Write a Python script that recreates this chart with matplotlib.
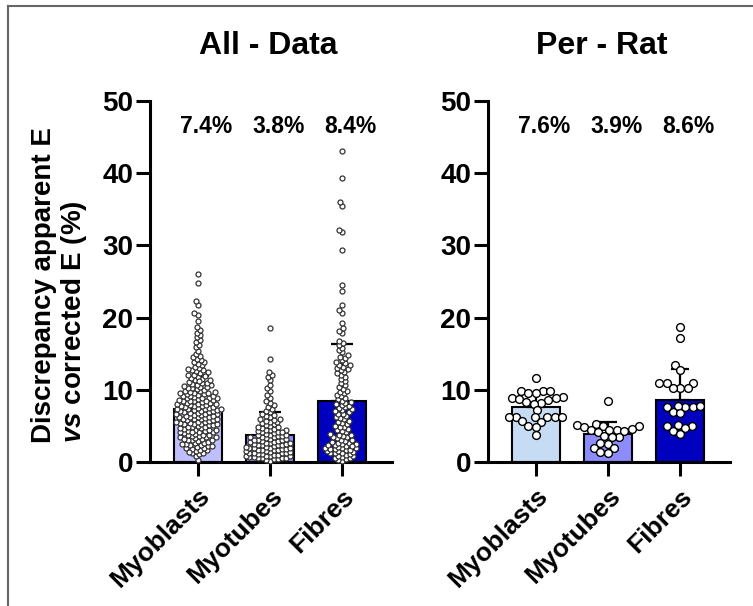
import numpy as np
import matplotlib
matplotlib.use('Agg')
import matplotlib.pyplot as plt
from matplotlib.lines import Line2D

plt.rcParams['font.family'] = ['Liberation Sans', 'DejaVu Sans']
plt.rcParams['font.weight'] = 'bold'
plt.rcParams['mathtext.fontset'] = 'custom'
plt.rcParams['mathtext.it'] = 'Liberation Sans:italic:bold'
plt.rcParams['mathtext.rm'] = 'Liberation Sans:bold'

# groups
groups = ['Myoblasts', 'Myotubes', 'Fibres']

# All - Data panel
mean_all = [7.4, 3.8, 8.4]
sd_all = [4.5, 3.1, 7.9]
myoblasts_all = [
    0.3, 0.8,
    1.1, 1.2, 1.3, 1.5, 1.6, 1.7, 1.8, 1.9, 1.4,
    2.0, 2.1, 2.2, 2.3, 2.4, 2.5, 2.5, 2.6, 2.7, 2.8, 2.9, 2.2,
    3.0, 3.1, 3.1, 3.2, 3.3, 3.4, 3.4, 3.5, 3.6, 3.6, 3.7, 3.8, 3.8, 3.9, 3.2,
    4.0, 4.1, 4.1, 4.2, 4.3, 4.3, 4.4, 4.5, 4.5, 4.6, 4.7, 4.7, 4.8, 4.9, 4.9, 4.2,
    5.0, 5.1, 5.1, 5.2, 5.3, 5.3, 5.4, 5.4, 5.5, 5.6, 5.6, 5.7, 5.8, 5.8, 5.9, 5.9, 5.2,
    6.0, 6.0, 6.1, 6.2, 6.2, 6.3, 6.3, 6.4, 6.5, 6.5, 6.6, 6.6, 6.7, 6.8, 6.8, 6.9, 6.9, 6.4,
    7.0, 7.0, 7.1, 7.2, 7.2, 7.3, 7.3, 7.4, 7.5, 7.5, 7.6, 7.6, 7.7, 7.8, 7.8, 7.9, 7.9, 7.4,
    8.0, 8.0, 8.1, 8.2, 8.2, 8.3, 8.4, 8.4, 8.5, 8.6, 8.6, 8.7, 8.8, 8.8, 8.9, 8.9, 8.5,
    9.0, 9.1, 9.1, 9.2, 9.3, 9.4, 9.4, 9.5, 9.6, 9.7, 9.7, 9.8, 9.9, 9.5,
    10.0, 10.1, 10.2, 10.3, 10.4, 10.5, 10.6, 10.7, 10.8, 10.9, 10.4,
    11.0, 11.1, 11.3, 11.4, 11.5, 11.6, 11.8, 11.9, 11.2,
    12.0, 12.1, 12.3, 12.4, 12.6, 12.7, 12.8, 12.9,
    13.0, 13.2, 13.4, 13.6, 13.8, 13.9,
    14.1, 14.3, 14.5, 14.7, 14.9,
    15.4, 15.9, 16.2, 16.6, 16.9, 17.3, 17.6, 17.9, 18.3, 18.7,
    19.5, 20.4, 20.7, 21.8, 22.3, 24.8, 26.0,
]
myotubes_all = [
    0.2, 0.3, 0.4, 0.4, 0.5, 0.5, 0.6, 0.6, 0.7, 0.7, 0.8, 0.8, 0.9, 0.9,
    1.0, 1.0, 1.1, 1.1, 1.2, 1.2, 1.3, 1.3, 1.4, 1.4, 1.5, 1.5, 1.6, 1.6, 1.7, 1.7, 1.8, 1.8, 1.9, 1.9,
    2.0, 2.0, 2.1, 2.1, 2.2, 2.3, 2.3, 2.4, 2.4, 2.5, 2.5, 2.6, 2.6, 2.7, 2.8, 2.8, 2.9, 2.9,
    3.0, 3.0, 3.1, 3.2, 3.2, 3.3, 3.4, 3.4, 3.5, 3.6, 3.6, 3.7, 3.8, 3.8, 3.9,
    4.0, 4.1, 4.2, 4.3, 4.4, 4.5, 4.5, 4.6, 4.7, 4.8, 4.9, 4.2,
    5.0, 5.1, 5.2, 5.4, 5.5, 5.6, 5.7, 5.8, 5.9,
    6.0, 6.2, 6.4, 6.5, 6.7, 6.9,
    7.1, 7.4, 7.6, 7.9, 8.2, 8.5, 8.9, 9.3, 9.8,
    10.2, 10.7, 11.3, 11.8, 12.0, 12.4, 14.2, 18.6,
]
fibres_all = [
    0.1, 0.3, 0.4, 0.5, 0.6, 0.7, 0.8, 0.9,
    1.0, 1.1, 1.2, 1.2, 1.3, 1.4, 1.5, 1.5, 1.6, 1.7, 1.8, 1.8, 1.9, 1.9,
    2.0, 2.1, 2.2, 2.3, 2.4, 2.5, 2.5, 2.6, 2.7, 2.8, 2.9, 2.2,
    3.0, 3.1, 3.3, 3.4, 3.5, 3.6, 3.7, 3.8, 3.9,
    4.1, 4.3, 4.4, 4.6, 4.8, 4.9,
    5.0, 5.2, 5.4, 5.5, 5.7, 5.9,
    6.1, 6.2, 6.4, 6.6, 6.7, 6.9,
    7.0, 7.2, 7.3, 7.5, 7.6, 7.8, 7.9,
    8.0, 8.2, 8.3, 8.5, 8.7, 8.9,
    9.1, 9.3, 9.5, 9.7, 9.9,
    10.1, 10.4, 10.6, 10.9, 11.2, 11.5, 11.8,
    12.1, 12.3, 12.5, 12.7, 12.9,
    13.0, 13.2, 13.4, 13.5, 13.7, 13.9,
    14.1, 14.4, 14.6, 14.8, 15.2, 15.5, 15.8, 16.2, 16.5, 16.8,
    17.8, 18.2, 18.5, 19.2, 20.6, 21.0, 21.7, 23.7, 24.5,
    29.4, 31.8, 32.2, 35.5, 36.0, 39.3, 43.1,
]

# Per - Rat panel
mean_rat = [7.6, 3.9, 8.6]
sd_rat = [1.9, 1.6, 4.3]
myoblasts_rat = [11.7, 9.9, 9.9, 9.9, 9.6, 9.5, 9.0, 8.9, 8.8, 8.7, 8.6, 8.3, 8.2,
                 8.1, 7.2, 6.3, 6.3, 6.3, 6.2, 6.3, 6.3, 5.7, 5.6, 5.0, 4.9, 3.7]
myotubes_rat = [8.4, 5.2, 5.1, 5.0, 5.0, 4.9, 4.6, 4.5, 4.4, 4.4, 4.3, 4.2, 3.6,
                3.5, 3.4, 2.7, 2.5, 2.0, 1.9, 1.4, 1.3]
fibres_rat = [18.7, 17.2, 13.5, 12.7, 11.0, 11.0, 11.0, 10.3, 10.3, 10.3, 7.6, 7.6,
              7.7, 7.6, 7.8, 6.9, 6.8, 5.0, 5.0, 5.1, 4.7, 4.3, 3.9]

colors_all = ['#BFBFFF', '#8C8CFF', '#0000BF']
colors_rat = ['#C6DCF5', '#8C8CFF', '#0000BF']

W, H = 753, 606
fig = plt.figure(figsize=(W / 100, H / 100), dpi=100)
axL = fig.add_axes([150 / W, 144 / H, 242 / W, 361 / H])
axR = fig.add_axes([488 / W, 144 / H, 242 / W, 361 / H])

XLIM = (-0.66, 2.69)
YLIM = (0, 50)
xpx = 242 / (XLIM[1] - XLIM[0])
ypx = 361 / (YLIM[1] - YLIM[0])


def swarm(vals, d):
    # simple beeswarm in pixel space, returns x offsets in data units
    ys = np.asarray(vals, dtype=float) * ypx
    xs = np.zeros(len(ys))
    placed = []
    for i in np.argsort(ys, kind='stable'):
        y = ys[i]
        iv = []
        for xj, yj in placed:
            dy = abs(y - yj)
            if dy < d:
                w = np.sqrt(d * d - dy * dy)
                iv.append((xj - w, xj + w))
        cands = [0.0] + [a for a, b in iv] + [b for a, b in iv]
        cands.sort(key=lambda c: (abs(c), c))
        for c in cands:
            if all(not (a + 1e-6 < c < b - 1e-6) for a, b in iv):
                xs[i] = c
                break
        placed.append((xs[i], y))
    return xs / xpx


def panel(ax, means, sds, colors, pts, d, ms, mec, mew, capsize):
    x = np.arange(len(groups))
    ax.bar(x, means, width=0.66, color=colors, edgecolor='black', linewidth=1.5, zorder=2)
    ax.errorbar(x, means, yerr=[np.zeros(len(x)), sds], fmt='none', ecolor='black',
                elinewidth=1.6, capsize=capsize, capthick=1.6, zorder=3)
    for i, vals in enumerate(pts):
        off = swarm(vals, d)
        ax.plot(i + off, vals, 'o', ms=ms, mfc='white', mec=mec, mew=mew,
                linestyle='none', zorder=4, clip_on=False)
    for i, m in enumerate(means):
        ax.text(i + 0.12, 46.4, f'{m}%', ha='center', va='center', fontsize=16.5,
                fontweight='bold')
    ax.set_xlim(*XLIM)
    ax.set_ylim(*YLIM)
    ax.set_yticks(np.arange(0, 51, 10))
    ax.set_xticks(x)
    ax.set_xticklabels(groups, rotation=45, ha='right', va='top', rotation_mode='anchor')
    for s in ['top', 'right']:
        ax.spines[s].set_visible(False)
    for s in ['left', 'bottom']:
        ax.spines[s].set_linewidth(2.2)
    ax.tick_params(axis='both', length=10, width=2.2, labelsize=20, pad=2)
    ax.tick_params(axis='x', labelsize=19, pad=6)
    ax.patch.set_alpha(0)


panel(axL, mean_all, sd_all, colors_all, [myoblasts_all, myotubes_all, fibres_all],
      d=4.2, ms=3.6, mec='#333333', mew=0.9, capsize=8)
panel(axR, mean_rat, sd_rat, colors_rat, [myoblasts_rat, myotubes_rat, fibres_rat],
      d=7.6, ms=5.6, mec='black', mew=1.0, capsize=6.5)

fig.text(268 / W, 1 - 46 / H, 'All - Data', ha='center', va='center', fontsize=23,
         fontweight='bold')
fig.text(602 / W, 1 - 46 / H, 'Per - Rat', ha='center', va='center', fontsize=23,
         fontweight='bold')
fig.text(60 / W, 163 / H, 'Discrepancy apparent E\n$\\it{vs}$ corrected E (%)',
         rotation=90, ha='center', va='bottom', multialignment='left', fontsize=20,
         fontweight='bold', linespacing=1.1)

# frame around the figure
fig.add_artist(Line2D([8 / W, 1], [1 - 6 / H, 1 - 6 / H], color='#666666', lw=1.5))
fig.add_artist(Line2D([8 / W, 8 / W], [0, 1 - 6 / H], color='#666666', lw=1.5))

fig.savefig('out.png', dpi=100, facecolor='white')
